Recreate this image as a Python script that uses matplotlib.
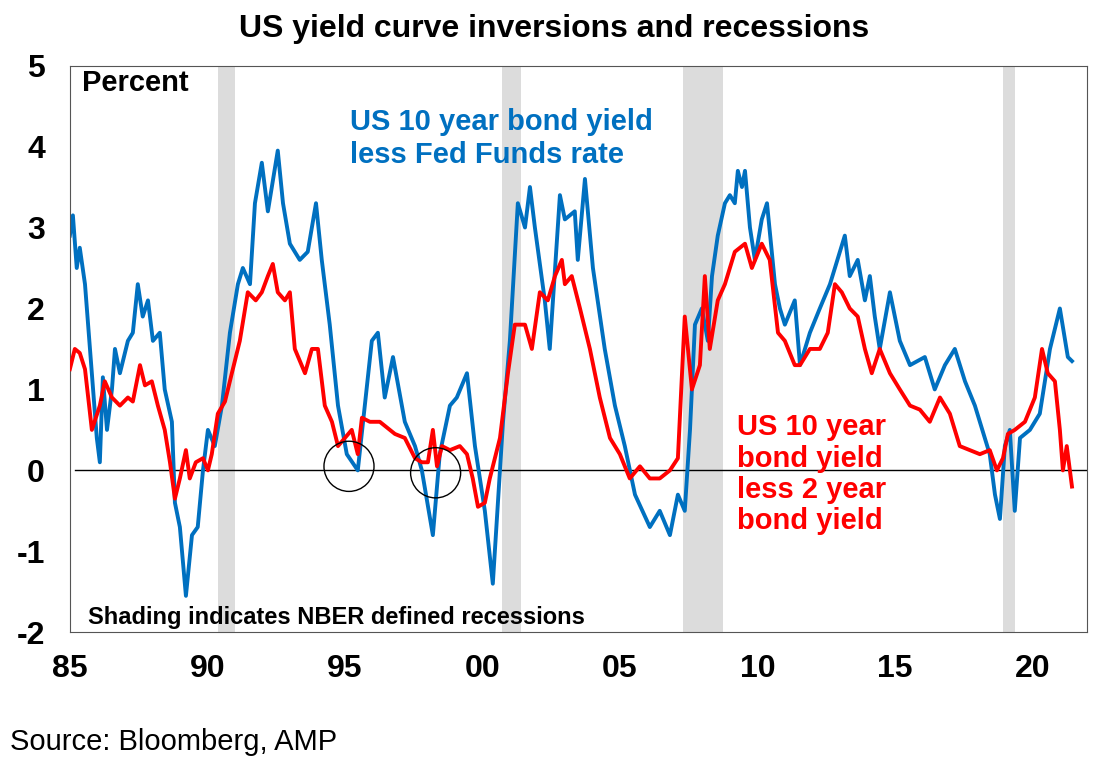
import matplotlib
matplotlib.use("Agg")
import matplotlib.pyplot as plt
from matplotlib.patches import Ellipse

plt.rcParams['font.family'] = ['Liberation Sans', 'DejaVu Sans']
plt.rcParams['axes.unicode_minus'] = False

blue_x = [85.00,85.11,85.25,85.36,85.55,85.80,85.98,86.09,86.20,86.35,86.53,86.64,86.82,87.11,87.29,87.47,87.65,87.84,88.02,88.27,88.45,88.71,88.82,89.00,89.22,89.44,89.65,89.84,90.02,90.27,90.53,90.82,91.11,91.29,91.55,91.73,91.98,92.20,92.56,92.75,93.00,93.36,93.65,93.95,94.16,94.45,94.75,95.07,95.47,95.98,96.20,96.45,96.75,97.18,97.55,97.80,98.20,98.45,98.82,99.07,99.44,99.73,100.09,100.38,100.75,101.00,101.29,101.55,101.73,101.91,102.27,102.45,102.82,103.00,103.36,103.47,103.73,104.02,104.45,104.82,105.18,105.55,106.09,106.45,106.82,107.11,107.36,107.55,107.73,107.98,108.20,108.35,108.56,108.82,109.00,109.18,109.29,109.44,109.55,109.73,109.91,110.16,110.35,110.64,110.82,111.00,111.36,111.55,111.91,112.27,112.64,113.00,113.18,113.36,113.65,113.91,114.09,114.27,114.45,114.82,115.18,115.55,116.09,116.45,116.82,117.18,117.55,117.91,118.27,118.45,118.64,118.82,119.00,119.18,119.36,119.55,119.91,120.27,120.64,121.00,121.29,121.44]
blue_y = [2.9,3.15,2.5,2.75,2.3,1.2,0.4,0.1,1.15,0.5,1.0,1.5,1.2,1.6,1.7,2.3,1.9,2.1,1.6,1.7,1.0,0.6,-0.4,-0.7,-1.55,-0.8,-0.7,0.0,0.5,0.3,0.8,1.7,2.3,2.5,2.3,3.3,3.8,3.2,3.95,3.3,2.8,2.6,2.7,3.3,2.6,1.8,0.8,0.2,0.0,1.6,1.7,0.9,1.4,0.6,0.3,0.0,-0.8,0.2,0.8,0.9,1.2,0.3,-0.5,-1.4,0.6,1.6,3.3,3.0,3.5,3.0,2.1,1.5,3.4,3.1,3.2,2.6,3.6,2.5,1.5,0.8,0.3,-0.3,-0.7,-0.5,-0.8,-0.3,-0.5,0.5,1.8,2.0,1.6,2.4,2.9,3.3,3.4,3.3,3.7,3.5,3.7,3.0,2.6,3.1,3.3,2.3,2.0,1.8,2.1,1.3,1.7,2.0,2.3,2.7,2.9,2.4,2.6,2.1,2.4,1.9,1.5,2.2,1.6,1.3,1.4,1.0,1.3,1.5,1.1,0.8,0.4,0.2,-0.3,-0.6,0.3,0.5,-0.5,0.4,0.5,0.7,1.5,2.0,1.4,1.35]

red_x = [85.00,85.18,85.36,85.55,85.80,86.09,86.27,86.53,86.82,87.11,87.29,87.55,87.73,87.98,88.20,88.45,88.64,88.82,89.00,89.22,89.36,89.58,89.84,90.02,90.16,90.38,90.64,90.89,91.18,91.47,91.76,91.98,92.20,92.38,92.56,92.82,93.00,93.18,93.55,93.80,94.02,94.27,94.53,94.75,95.00,95.25,95.47,95.62,95.91,96.27,96.64,96.82,97.18,97.55,97.80,98.02,98.20,98.35,98.53,98.82,99.18,99.44,99.65,99.84,100.09,100.27,100.64,100.93,101.18,101.55,101.80,102.09,102.38,102.64,102.89,103.00,103.25,103.55,103.91,104.27,104.64,105.00,105.36,105.73,106.09,106.45,106.82,107.11,107.36,107.62,107.91,108.09,108.27,108.56,108.82,109.18,109.55,109.80,110.16,110.45,110.75,111.00,111.36,111.55,111.91,112.27,112.56,112.82,113.07,113.36,113.65,113.91,114.16,114.45,114.82,115.18,115.55,115.91,116.27,116.64,117.00,117.36,117.73,118.09,118.45,118.71,118.93,119.11,119.36,119.73,120.09,120.35,120.56,120.82,121.00,121.11,121.25,121.44]
red_y = [1.25,1.5,1.45,1.25,0.5,0.8,1.1,0.9,0.8,0.9,0.85,1.3,1.05,1.1,0.8,0.5,0.1,-0.35,-0.1,0.25,-0.1,0.1,0.15,0.0,0.2,0.7,0.85,1.2,1.6,2.2,2.1,2.2,2.4,2.55,2.2,2.1,2.2,1.5,1.2,1.5,1.5,0.8,0.6,0.3,0.4,0.5,0.2,0.65,0.6,0.6,0.5,0.45,0.4,0.15,0.1,0.1,0.5,0.05,0.3,0.25,0.3,0.2,-0.1,-0.45,-0.4,-0.1,0.4,1.2,1.8,1.8,1.5,2.2,2.1,2.4,2.6,2.3,2.4,2.0,1.5,0.9,0.4,0.2,-0.1,0.05,-0.1,-0.1,0.0,0.15,1.9,1.0,1.3,2.4,1.5,2.1,2.3,2.7,2.8,2.5,2.8,2.6,1.7,1.6,1.3,1.3,1.5,1.5,1.7,2.3,2.2,2.0,1.9,1.5,1.2,1.5,1.2,1.0,0.8,0.75,0.6,0.9,0.7,0.3,0.25,0.2,0.25,0.0,0.15,0.45,0.5,0.6,0.9,1.5,1.2,1.1,0.5,0.0,0.3,-0.2]

recessions = [(90.38, 91.0), (100.7, 101.4), (107.3, 108.75), (118.93, 119.36)]
tick_pos = [85, 90, 95, 100, 105, 110, 115, 120]
tick_lab = ['85', '90', '95', '00', '05', '10', '15', '20']
circles = [(95.15, 0.05), (98.3, -0.03)]

BLUE = '#0070C0'
RED = '#FF0000'

fig = plt.figure(figsize=(11.09, 7.72), dpi=100)
ax = fig.add_axes([0.063, 0.181, 0.917, 0.734])
for a, b in recessions:
    ax.axvspan(a, b, color='#DCDCDC', lw=0, zorder=0)
ax.axhline(0, color='black', lw=1, zorder=1, xmin=0.005)
ax.plot(blue_x, blue_y, color=BLUE, lw=2.8, zorder=2)
ax.plot(red_x, red_y, color=RED, lw=2.8, zorder=3)
for cx, cy in circles:
    ax.add_patch(Ellipse((cx, cy), 1.82, 0.62, fill=False, ec='black', lw=1, zorder=4))

ax.set_xlim(85, 121.98)
ax.set_ylim(-2, 5)
ax.set_xticks(tick_pos)
ax.set_xticklabels(tick_lab)
ax.set_yticks(range(-2, 6))
ax.tick_params(labelsize=23, length=0)
ax.tick_params(axis='y', pad=18)
ax.tick_params(axis='x', pad=16)
for lab in ax.get_xticklabels() + ax.get_yticklabels():
    lab.set_fontweight('bold')
for s in ax.spines.values():
    s.set_color('#555555')
    s.set_linewidth(0.8)

ax.text(85.45, 4.78, 'Percent', fontsize=21, fontweight='bold', va='center')
ax.text(95.2, 4.1, 'US 10 year bond yield\nless Fed Funds rate', fontsize=21, fontweight='bold',
        color=BLUE, va='center', linespacing=1.2)
ax.text(109.25, -0.05, 'US 10 year\nbond yield\nless 2 year\nbond yield', fontsize=21, fontweight='bold',
        color=RED, va='center', linespacing=1.15)
ax.text(85.65, -1.82, 'Shading indicates NBER defined recessions', fontsize=17, fontweight='bold', va='center')

fig.text(0.5, 0.962, 'US yield curve inversions and recessions', ha='center', va='center',
         fontsize=23, fontweight='bold')
fig.text(0.009, 0.039, 'Source: Bloomberg, AMP', ha='left', va='center', fontsize=21)

fig.savefig('out.png', dpi=100)
